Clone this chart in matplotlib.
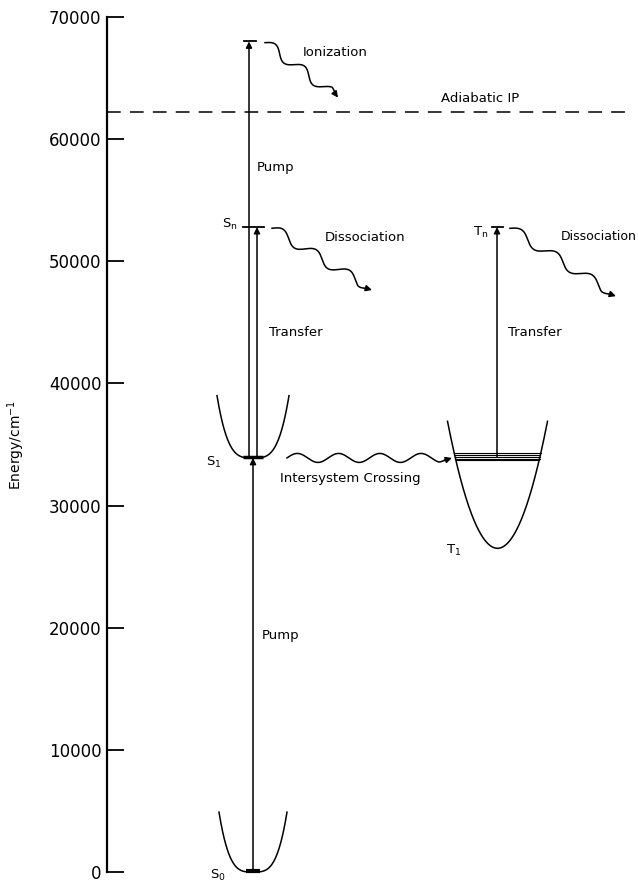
import numpy as np
import matplotlib
matplotlib.use("Agg")
import matplotlib.pyplot as plt

plt.rcParams['font.family'] = ['DejaVu Sans']
plt.rcParams['mathtext.default'] = 'regular'

# ---- data (energies in cm^-1) ----
yticks = [0, 10000, 20000, 30000, 40000, 50000, 60000, 70000]
ytick_labels = ["0", "10000", "20000", "30000", "40000", "50000", "60000", "70000"]
E_S0 = 0
E_S1 = 33900
E_Sn = 52800
E_ion = 68000
E_IP = 62200
E_T1_min = 26500
E_T1 = 34000
E_Tn = 52800
S0_well_top = 4900
S1_well_top = 39000
T1_well_top = 36900
T1_band = [33700, 33850, 34000, 34150, 34300]

# ---- layout ----
fig = plt.figure(figsize=(6.38, 8.82), dpi=100)
ax = fig.add_axes([107 / 638, 10 / 882, 531 / 638, 855 / 882])
ax.set_xlim(107, 638)
ax.set_ylim(0, 70000)
for s in ['top', 'right', 'bottom']:
    ax.spines[s].set_visible(False)
ax.spines['left'].set_linewidth(1.6)
ax.set_xticks([])
ax.set_yticks(yticks)
ax.set_yticklabels(ytick_labels)
ax.tick_params(axis='y', direction='in', length=12, width=1.3, labelsize=12, pad=4)
ax.set_ylabel("Energy/cm$^{-1}$", fontsize=10)
ax.yaxis.set_label_coords(-80 / 531, 0.5)

X_S = 253   # singlet column
X_T = 497   # triplet column
LW = 1.1
FS = 9.5


def well(xc, hw, bottom, top, p):
    s = np.linspace(-1, 1, 300)
    ax.plot(xc + hw * s, bottom + (top - bottom) * np.abs(s) ** p, color='k', lw=1.1,
            clip_on=False)


def up_arrow(x, e0, e1):
    ax.annotate("", xy=(x, e1), xytext=(x, e0),
                arrowprops=dict(arrowstyle='-|>', color='k', lw=LW, mutation_scale=9,
                                shrinkA=0, shrinkB=0))


def wavy(x0, e0, x1, e1, periods, amp, taper=0.12):
    p0 = ax.transData.transform((x0, e0))
    p1 = ax.transData.transform((x1, e1))
    d = p1 - p0
    L = np.hypot(*d)
    u = d / L
    nrm = np.array([-u[1], u[0]])
    t = np.linspace(0, 1, 500)
    env = np.clip((1 - t) / taper, 0, 1)
    pts = p0 + np.outer(t, d) + np.outer(amp * env * np.sin(2 * np.pi * periods * t), nrm)
    data = ax.transData.inverted().transform(pts)
    ax.plot(data[:-20, 0], data[:-20, 1], color='k', lw=LW)
    ax.annotate("", xy=tuple(data[-1]), xytext=tuple(data[-25]),
                arrowprops=dict(arrowstyle='-|>', color='k', lw=LW, mutation_scale=9,
                                shrinkA=0, shrinkB=0))


# Adiabatic IP
ax.plot([107, 625], [E_IP, E_IP], color='k', lw=1.1, linestyle=(0, (9, 6)))
ax.text(480, 63300, "Adiabatic IP", fontsize=FS, ha='center', va='center')

# wells
well(X_S, 34, E_S0, S0_well_top, 3.5)
well(X_S, 36, E_S1, S1_well_top, 3.5)
well(X_T + 0.5, 50, E_T1_min, T1_well_top, 2)
ax.plot([X_S - 7, X_S + 7], [E_S0 + 100, E_S0 + 100], color='k', lw=3, solid_capstyle='butt',
        clip_on=False)
ax.plot([X_S - 10, X_S + 10], [E_S1 + 100, E_S1 + 100], color='k', lw=2.5,
        solid_capstyle='butt')

# T1 level band
for e in T1_band:
    s = ((e - E_T1_min) / (T1_well_top - E_T1_min)) ** 0.5
    ax.plot([X_T + 0.5 - 50 * s, X_T + 0.5 + 50 * s], [e, e], color='k', lw=0.8)

# vertical transitions
up_arrow(X_S, E_S0, E_S1)
up_arrow(X_S - 4, E_S1, E_ion)
up_arrow(X_S + 4, E_S1, E_Sn)
up_arrow(X_T, E_T1, E_Tn)
ax.plot([X_S - 9, X_S + 3], [E_ion, E_ion], color='k', lw=1.3)
ax.plot([X_S - 10, X_S + 11], [E_Sn, E_Sn], color='k', lw=1.3)
ax.plot([X_T - 5, X_T + 6], [E_Tn, E_Tn], color='k', lw=1.3)

# wavy arrows
wavy(265, 67900, 338, 63400, 2.5, 5)
wavy(272, 52700, 372, 47650, 3, 5)
wavy(510, 52700, 616, 47150, 3, 5)
wavy(287, E_S1, 452, E_S1, 4, 4.5, taper=0.08)

# labels
ax.text(303, 67100, "Ionization", fontsize=FS, ha='left', va='center')
ax.text(257, 57650, "Pump", fontsize=FS, ha='left', va='center')
ax.text(238, 53000, "S$_n$", fontsize=FS, ha='right', va='center')
ax.text(325, 51950, "Dissociation", fontsize=FS, ha='left', va='center')
ax.text(269, 44150, "Transfer", fontsize=FS, ha='left', va='center')
ax.text(488, 52400, "T$_n$", fontsize=FS, ha='right', va='center')
ax.text(637, 52000, "Dissociation", fontsize=9, ha='right', va='center', clip_on=False)
ax.text(508, 44150, "Transfer", fontsize=FS, ha='left', va='center')
ax.text(222, 33550, "S$_1$", fontsize=FS, ha='right', va='center')
ax.text(280, 32250, "Intersystem Crossing", fontsize=FS, ha='left', va='center')
ax.text(446, 26350, "T$_1$", fontsize=FS, ha='left', va='center')
ax.text(262, 19350, "Pump", fontsize=FS, ha='left', va='center')
ax.text(210, -250, "S$_0$", fontsize=FS, ha='left', va='center', clip_on=False)

fig.savefig("out.png", dpi=100)
